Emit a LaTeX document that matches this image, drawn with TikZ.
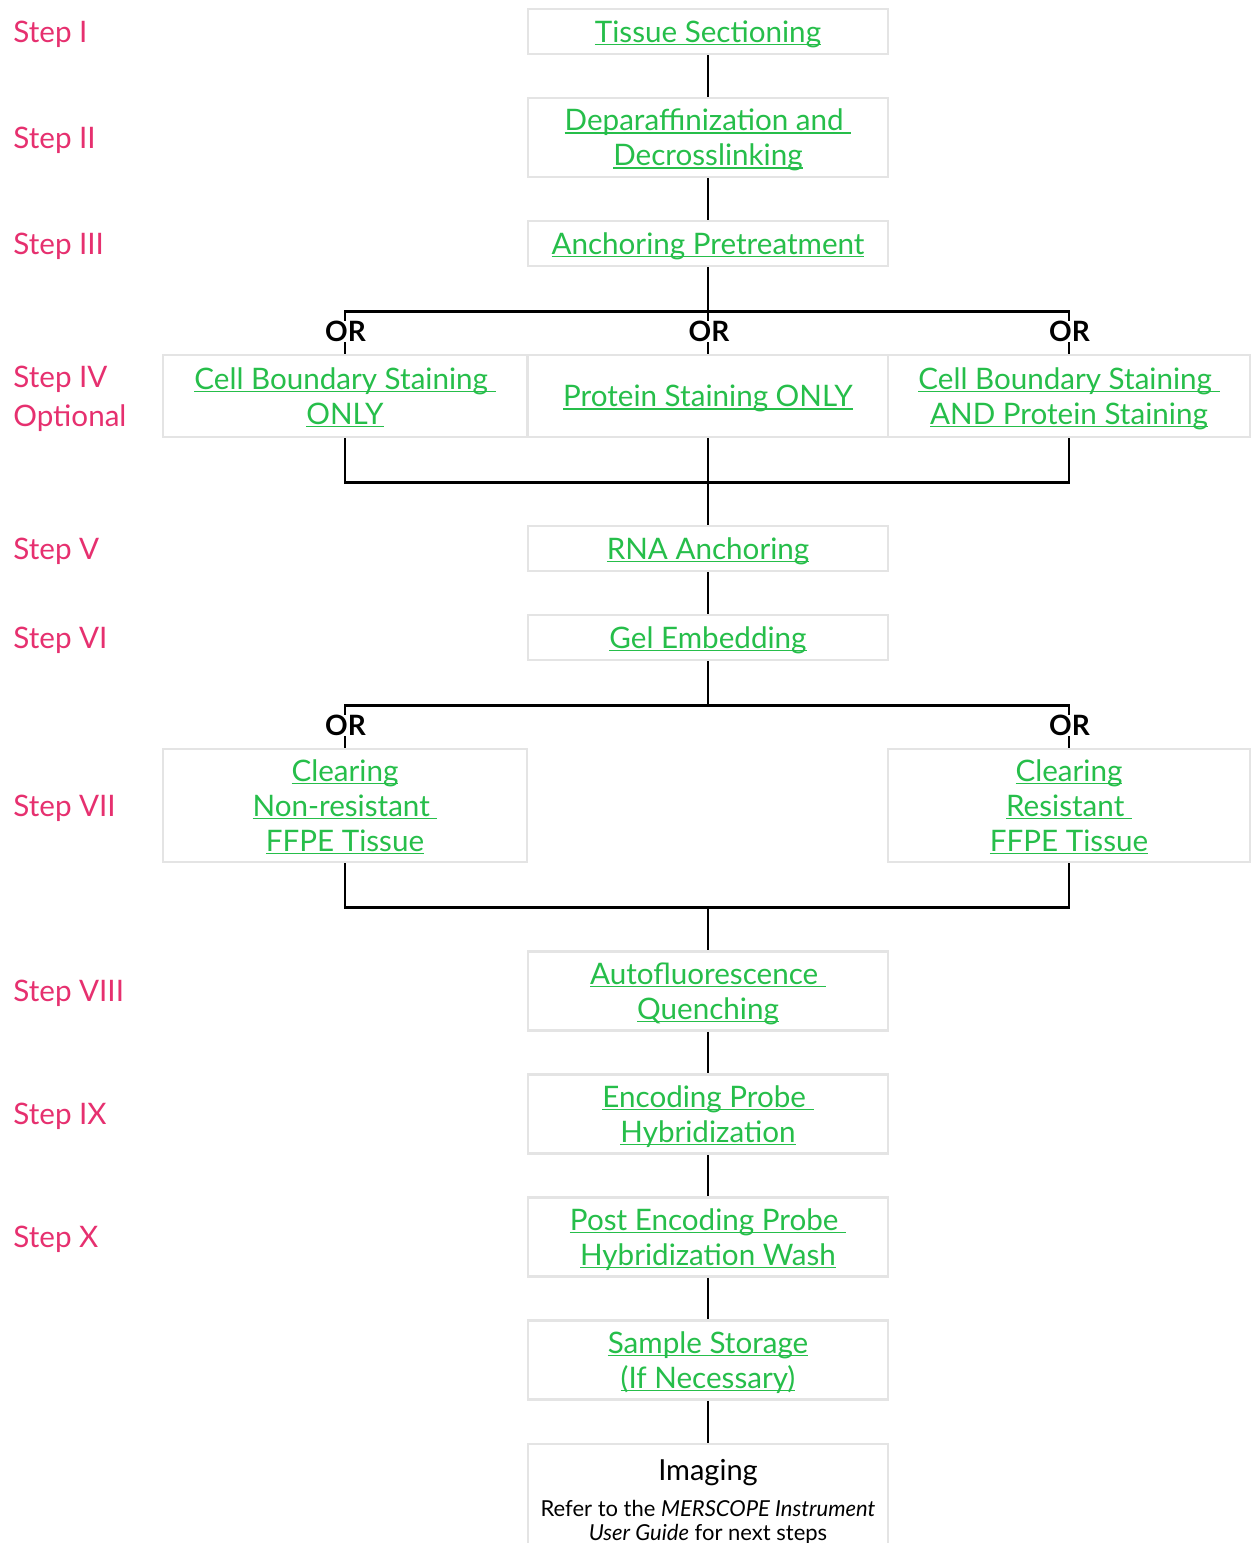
\documentclass[tikz,border=0pt]{standalone}
\usepackage{fontspec}
\setmainfont{Lato}
\usetikzlibrary{positioning}
\definecolor{steppink}{RGB}{230,48,111}
\definecolor{linkgreen}{RGB}{38,190,74}
\definecolor{boxgray}{RGB}{228,228,228}
\newcommand\lnk[1]{\leavevmode\setbox0=\hbox{#1}\rlap{\rule[-1.4pt]{\wd0}{0.8pt}}\box0}

\begin{document}
\begin{tikzpicture}[x=0.5pt, y=-0.5pt, node distance=53pt, on grid,
    box/.style={draw=boxgray, line width=1.3pt, fill=white, minimum width=180pt,
      align=center, inner sep=0pt, text depth=0pt, text=linkgreen,
      font=\fontsize{14.8}{17.5}\selectfont},
    steplab/.style={anchor=west, align=left, inner sep=0pt, text depth=0pt, text=steppink,
      font=\fontsize{14.8}{19.5}\selectfont},
    orlab/.style={fill=white, inner sep=0pt, font=\bfseries\fontsize{14}{14}\selectfont},
    link/.style={line width=1.2pt}]
   \useasboundingbox (0,0) rectangle (1250,1543);
   % main column
   \node[box, minimum height=22.5pt] (s1) at (708,31.5) {\lnk{Tissue Sectioning}};
   \node[box, minimum height=39.5pt] (s2) [below = of s1] {\lnk{Deparaffinization and\ }\\\lnk{Decrosslinking}};
   \node[box, minimum height=22.5pt] (s3) [below = of s2] {\lnk{Anchoring Pretreatment}};
   \node[box, minimum height=41pt] (p4) [below = 76.25pt of s3] {\lnk{Protein Staining ONLY}};
   \node[box, minimum height=41pt, minimum width=182pt] (c4l) [left = 181.5pt of p4] {\lnk{Cell Boundary Staining\ }\\\lnk{ONLY}};
   \node[box, minimum height=41pt, minimum width=181pt] (c4r) [right = 180.5pt of p4] {\lnk{Cell Boundary Staining\ }\\\lnk{AND Protein Staining}};
   \node[box, minimum height=22.5pt] (s5) [below = 76.25pt of p4] {\lnk{RNA Anchoring}};
   \node[box, minimum height=22.5pt] (s6) [below = 44.5pt of s5] {\lnk{Gel Embedding}};
   \node[box, minimum height=56.5pt, minimum width=182pt] (c7l) [below left = 84pt and 181.5pt of s6] {\lnk{Clearing}\\\lnk{Non-resistant\ }\\\lnk{FFPE Tissue}};
   \node[box, minimum height=56.5pt, minimum width=181pt] (c7r) [below right = 84pt and 180.5pt of s6] {\lnk{Clearing}\\\lnk{Resistant\ }\\\lnk{FFPE Tissue}};
   \node[box, minimum height=39.5pt] (s8) [below = 176.75pt of s6] {\lnk{Autofluorescence\ }\\\lnk{Quenching}};
   \node[box, minimum height=39.5pt] (s9) [below = 61.5pt of s8] {\lnk{Encoding Probe\ }\\\lnk{Hybridization}};
   \node[box, minimum height=39.5pt] (s10) [below = 61.5pt of s9] {\lnk{Post Encoding Probe\ }\\\lnk{Hybridization Wash}};
   \node[box, minimum height=39.5pt] (s11) [below = 61.5pt of s10] {\lnk{Sample Storage}\\\lnk{(If Necessary)}};
   \node[box, on grid=false, inner ysep=7.5pt, text=black, font=\fontsize{11}{12}\selectfont] (img) [below = 21pt of s11]
      {{\fontsize{14.5}{17}\selectfont Imaging}\\[6pt]Refer to the \textit{MERSCOPE Instrument}\\\textit{User Guide} for next steps};
   % junctions
   \path (s3.south) ++(0,-22pt) coordinate (j1);
   \path (p4.south) ++(0,-22pt) coordinate (j2);
   \path (s6.south) ++(0,-22pt) coordinate (j3);
   \path (c7l.south -| s6) ++(0,-22pt) coordinate (j4);
   % connectors
   \draw[link] (s1) -- (s2);
   \draw[link] (s2) -- (s3);
   \draw[link] (s3) -- (p4);
   \draw[link] (c4l.north) |- (j1) -| (c4r.north);
   \draw[link] (c4l.south) |- (j2) -| (c4r.south);
   \draw[link] (p4) -- (s5);
   \draw[link] (s5) -- (s6);
   \draw[link] (s6.south) -- (j3);
   \draw[link] (c7l.north) |- (j3) -| (c7r.north);
   \draw[link] (c7l.south) |- (j4) -| (c7r.south);
   \draw[link] (j4) -- (s8);
   \draw[link] (s8) -- (s9);
   \draw[link] (s9) -- (s10);
   \draw[link] (s10) -- (s11);
   \draw[link] (s11) -- (img);
   % OR labels
   \path (c4l.north) ++(0.5,0pt) ++(0,11pt) node[orlab] (or1) {OR};
   \path (p4.north) ++(1,0pt) ++(0,11pt) node[orlab] (or2) {OR};
   \path (c4r.north) ++(0.5,0pt) ++(0,11pt) node[orlab] (or3) {OR};
   \path (c7l.north) ++(0.5,0pt) ++(0,11pt) node[orlab] (or4) {OR};
   \path (c7r.north) ++(0.5,0pt) ++(0,11pt) node[orlab] (or5) {OR};
   % step labels
   \coordinate (lm) at (13,0);
   \node[steplab] (st1) at (lm |- s1) {Step I};
   \node[steplab] (st2) at (lm |- s2) {Step II};
   \node[steplab] (st3) at (lm |- s3) {Step III};
   \node[steplab] (st4) at (lm |- p4) {Step IV\\Optional};
   \node[steplab] (st5) at (lm |- s5) {Step V};
   \node[steplab] (st6) at (lm |- s6) {Step VI};
   \node[steplab] (st7) at (lm |- c7l) {Step VII};
   \node[steplab] (st8) at (lm |- s8) {Step VIII};
   \node[steplab] (st9) at (lm |- s9) {Step IX};
   \node[steplab] (st10) at (lm |- s10) {Step X};
\end{tikzpicture}
\end{document}
